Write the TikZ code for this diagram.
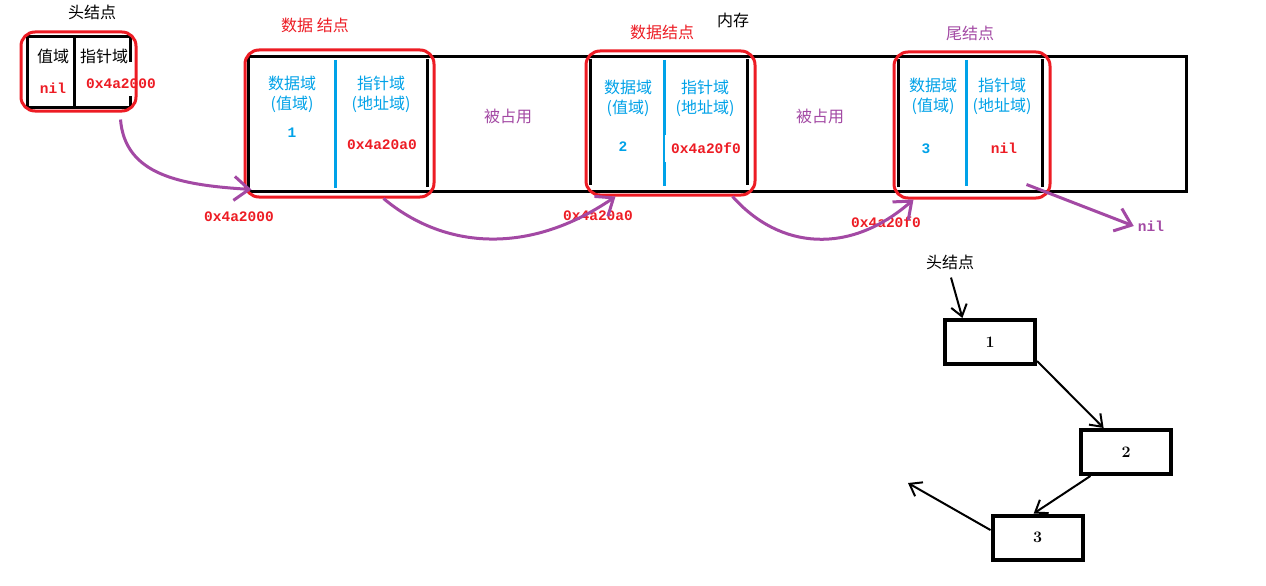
\documentclass[tikz,border=0pt]{standalone}
\usepackage{fontspec}
\setmonofont{Liberation Mono}
\newfontfamily\cjkfont{Noto Sans CJK SC}
\usetikzlibrary{arrows.meta,positioning,calc}
\definecolor{ptrpurple}{RGB}{163,73,164}
\definecolor{nodered}{RGB}{237,28,36}
\definecolor{fieldblue}{RGB}{0,162,232}

\begin{document}
\begin{tikzpicture}[x=1pt,y=-1pt,
  cjk/.style={font=\cjkfont\fontsize{16}{18}\selectfont,inner sep=0pt},
  fld/.style={cjk,text=fieldblue},
  addr/.style={font=\ttfamily\bfseries\fontsize{14.5}{16}\selectfont,text=nodered,inner sep=0pt},
  cnode/.style={draw=nodered,line width=3pt,rounded corners=14pt,inner sep=0pt},
  ptr/.style={draw=ptrpurple,line width=3pt,-{Straight Barb[length=15pt,width=24pt]}},
  lnk/.style={line width=2pt,-{Straight Barb[length=11pt,width=16pt]}},
  box/.style={draw,line width=4pt,minimum width=90pt,minimum height=44pt,font=\bfseries\fontsize{16}{18}\selectfont}]
\fill[white] (0,0) rectangle (1266,586);
\useasboundingbox (0,0) rectangle (1266,586);
% head node
\node[cjk] (headlbl) at (92,12) {头结点};
\draw[line width=3pt] (130,62) -- (130,37) -- (27,37) -- (27,107) -- (130,107) -- (130,96) (74,37) -- (74,107);
\node[cjk] (hval) at (53,56) {值域}; \node[cjk] (hptr) at (104,56) {指针域};
\node[addr] (hnil) at (53,88) {nil}; \node[addr] (haddr) at (121,84) {0x4a2000};
\node[cnode,minimum width=115pt,minimum height=79pt] (head) at (78.5,71.5) {};
% memory strip
\node[cjk] (memlbl) at (733,20) {内存};
\draw[line width=3pt] (248,57) rectangle (1186,191);
\draw[fieldblue,line width=3pt] (335,60) -- (335,188) (664,60) -- (664,186) (966,60) -- (966,186);
\foreach \xa/\xb/\y/\i in {292/381/83/1,628/705/87/2,933/1002/85/3} {
  \node[fld] (dv\i) at (\xa,\y) {数据域}; \node[fld] (dp\i) at (\xa,\y+21) {(值域)};
  \node[fld] (pv\i) at (\xb,\y) {指针域}; \node[fld] (pp\i) at (\xb,\y+21) {(地址域)};
}
\foreach \x/\y/\v in {292/133/1,623/147/2,926/149/3} \node[addr,text=fieldblue] (val\v) at (\x,\y) {\v};
\node[addr] (a1) at (382,145) {0x4a20a0};
\node[addr,fill=white,minimum width=82pt,minimum height=27pt] (a2) at (706,148) {0x4a20f0};
\node[addr] (a3) at (1004,148) {nil};
\draw[line width=3pt] (427,59) -- (427,187) (590,59) -- (590,185) (747,59) -- (747,185) (898,59) -- (898,187) (1042,59) -- (1042,187);
\node[cjk,text=ptrpurple] (occ1) at (508,116) {被占用};
\node[cjk,text=ptrpurple] (occ2) at (820,116) {被占用};
\node[cjk,text=nodered] (t1) at (315,25) {数据 结点};
\node[cjk,text=nodered] (t2) at (662,32) {数据结点};
\node[cjk,text=ptrpurple] (t3) at (970,33) {尾结点};
\node[cnode,minimum width=189pt,minimum height=147pt] (n1) at (339.5,123.5) {};
\node[cnode,minimum width=169pt,minimum height=144pt] (n2) at (670.5,123) {};
\node[cnode,minimum width=156pt,minimum height=146pt] (n3) at (972,125) {};
% addresses and pointers
\node[addr] (l1) at (239,217) {0x4a2000};
\node[addr] (l2) at (598,216) {0x4a20a0};
\node[addr] (l3) at (886,222) {0x4a20f0};
\node[addr,text=ptrpurple,inner xsep=4pt] (nil) at (1151,226) {nil};
\draw[ptr] ([shift={(42,7)}]head.south) .. controls (125,175) and (180,185) .. ([shift={(8,-9)}]n1.south west);
\draw[ptr] ([xshift=44pt]n1.south) .. controls (445,250) and (530,255) .. ([xshift=31pt]n2.south west);
\draw[ptr] ([xshift=62pt]n2.south) .. controls (780,250) and (850,255) .. ([xshift=21pt]n3.south west);
\draw[ptr] ([shift={(-25,-15)}]n3.south east) -- (nil.west);
% list view
\node[cjk] (hl2) at (950,262) {头结点};
\node[box] (b1) at (990,342) {1};
\node[box] (b2) at (1126,452) {2};
\node[box] (b3) at (1037.5,537.5) {3};
\coordinate (out) at (908,483);
\draw[lnk] ([shift={(1,8)}]hl2.south) -- (b1.139);
\draw[lnk] (b1.-22) -- (b2.133);
\draw[lnk] (b2.214) -- (b3.99);
\draw[lnk] (b3.171) -- (out);
\end{tikzpicture}
\end{document}
